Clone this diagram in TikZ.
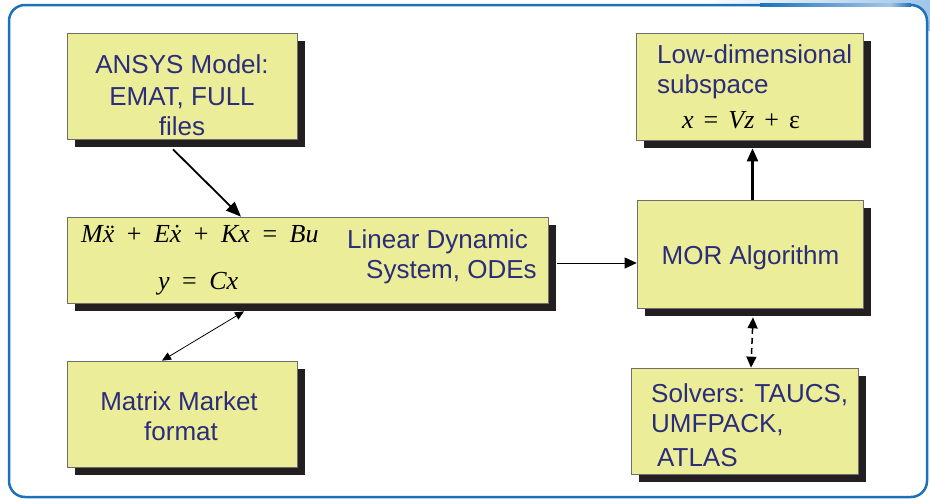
\documentclass[tikz,border=0pt]{standalone}
\usepackage{fontspec}
\setmainfont{Liberation Sans}
\newfontfamily\tms{Liberation Serif}
\usetikzlibrary{arrows.meta,shadows,calc}
\definecolor{boxc}{RGB}{236,237,152}
\definecolor{shadc}{RGB}{35,31,32}
\definecolor{navy}{RGB}{43,45,122}
\definecolor{framec}{RGB}{28,114,186}
\definecolor{bandc}{RGB}{160,198,232}
\definecolor{edgec}{RGB}{110,110,110}
\newcommand\mi[1]{{\tms\itshape #1}}
\newcommand\gp{\hspace{12.5pt}}
\newcommand\gq{\hspace{10pt}}
\newcommand\xddot{\rlap{\hspace{3pt}\tms ¨}\mi{x}}
\newcommand\xdot{\rlap{\hspace{3pt}\tms ˙}\mi{x}}
\begin{document}
\begin{tikzpicture}[x=1pt,y=-1pt,
  box/.style={draw=edgec, line width=0.7pt, fill=boxc, inner sep=0pt,
    drop shadow={shadow xshift=8pt,shadow yshift=-8pt,fill=shadc,opacity=1}},
  txt/.style={font=\fontsize{26}{32}\selectfont, text=navy, inner sep=0pt},
  eqt/.style={font=\fontsize{26}{32}\selectfont\tms, text=black, inner sep=0pt},
  thick arrow/.style={line width=1.8pt, -{Triangle[length=15pt,width=12pt]}},
  thin both/.style={line width=0.8pt, {Triangle[length=9pt,width=8pt]}-{Triangle[length=9pt,width=8pt]}},
  thin arrow/.style={line width=0.8pt, -{Triangle[length=12pt,width=11pt]}},
  up arrow/.style={line width=2.5pt, -{Triangle[length=13pt,width=11pt]}},
  dash both/.style={line width=1.5pt, dash pattern=on 6pt off 4pt, {Triangle[length=11pt,width=10pt]}-{Triangle[length=11pt,width=10pt]}}
]
\useasboundingbox (0,0) rectangle (930,499);
% background band and frame
\shade[left color=white, right color=bandc] (700,0) rectangle (930,30);
\fill[white, rounded corners=16pt] (9,5) rectangle (927,497);
\draw[framec, line width=2.5pt, rounded corners=16pt] (9,5) rectangle (927,497);
\shade[left color=framec, right color=bandc] (760,3.75) rectangle (890,6.25);
\shade[left color=bandc, right color=framec] (890,3.75) rectangle (911,6.25);

% boxes
\node[box, minimum width=230pt, minimum height=106pt] (ansys) at (182,86) {};
\node[box, minimum width=481pt, minimum height=86pt] (lin) at (307.5,260) {};
\node[box, minimum width=227pt, minimum height=107pt] (low) at (749.5,86.5) {};
\node[box, minimum width=226pt, minimum height=108pt] (mor) at (750,254) {};
\node[box, minimum width=227pt, minimum height=106pt] (solv) at (744.5,421) {};
\node[box, minimum width=230pt, minimum height=106pt] (mm) at (182,414) {};

% texts
\node[txt, anchor=base] (t1a) at (182,73) {ANSYS Model:};
\node[txt, anchor=base] (t1b) at (182,105) {EMAT, FULL};
\node[txt, anchor=base] (t1c) at (182,135) {files};

\node[eqt, anchor=base west] (e1) at (81,242) {\mi{M}\xddot\gp+\gp\mi{E}\xdot\gp+\gp\mi{Kx}\gp=\gp\mi{Bu}};
\node[eqt, anchor=base west] (e2) at (158,289) {\mi{y}\gp=\gp\mi{Cx}};
\node[txt, anchor=base west] (t2a) at (347,248) {Linear Dynamic};
\node[txt, anchor=base west] (t2b) at (366,278) {System, ODEs};

\node[txt, anchor=base west] (t3a) at (657,63) {Low-dimensional};
\node[txt, anchor=base west] (t3b) at (657,93) {subspace};
\node[eqt, anchor=base west] (e3) at (682,128) {\mi{x}\gq=\gq\mi{Vz}\gq+\gq ε};

\node[txt, anchor=base] (t4) at (750.5,264) {MOR Algorithm};

\node[txt, anchor=base west] (t5a) at (651,402) {Solvers: TAUCS,};
\node[txt, anchor=base west] (t5b) at (651,432) {UMFPACK,};
\node[txt, anchor=base west] (t5c) at (657,466) {ATLAS};

\node[txt, anchor=base] (t6a) at (179,410) {Matrix Market};
\node[txt, anchor=base] (t6b) at (181,440) {format};

% connectors
\draw[thick arrow] ([shift={(-9,10)}]ansys.south) -- ([shift={(-66.5,0)}]lin.north);
\draw[thin both] ([shift={(-63.5,8)}]lin.south) -- ([shift={(-20,0)}]mm.north);
\draw[thin arrow] ([shift={(9,3)}]lin.east) -- ([shift={(0,9)}]mor.west);
\draw[up arrow] ([shift={(2.5,0)}]mor.north) -- ([shift={(3,8)}]low.south);
\draw[dash both] ([shift={(3,9)}]mor.south) -- ([shift={(6.5,0)}]solv.north);
\end{tikzpicture}
\end{document}
